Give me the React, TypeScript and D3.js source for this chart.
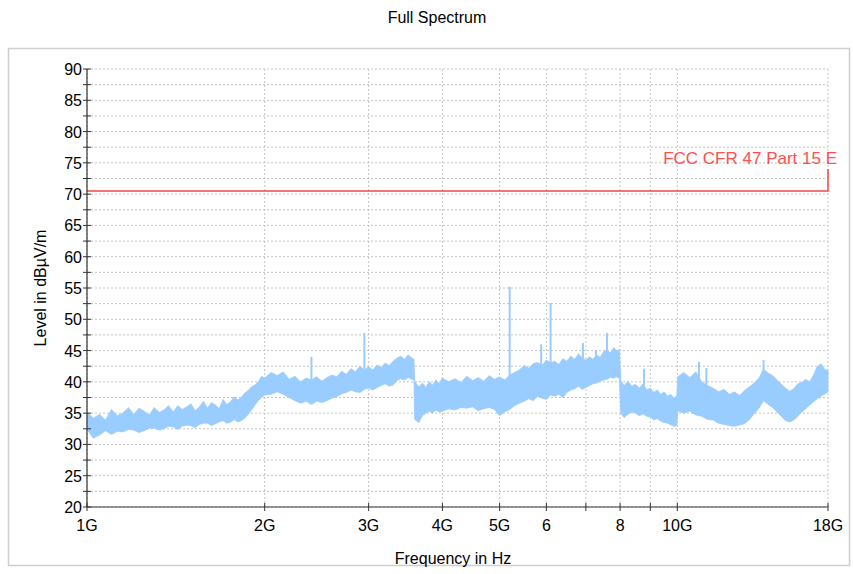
import React from 'react';
import * as d3 from 'd3';

// Measured envelope of the full spectrum sweep (GHz, dBµV/m)
const freqGHz = [
  1.0, 1.025, 1.05, 1.075, 1.1, 1.125, 1.15, 1.175, 1.2, 1.225, 1.25, 1.275, 1.3, 1.325, 1.35, 1.375, 1.4, 1.425,
  1.45, 1.475, 1.5, 1.525, 1.55, 1.575, 1.6, 1.625, 1.65, 1.675, 1.7, 1.725, 1.75, 1.775, 1.8, 1.825, 1.85, 1.875,
  1.9, 1.925, 1.95, 1.975, 2.0,
  2.05, 2.1, 2.15, 2.2, 2.25, 2.3, 2.35, 2.4, 2.45, 2.5, 2.55, 2.6, 2.65, 2.7, 2.75, 2.8, 2.85, 2.9, 2.95, 3.0,
  3.05, 3.1, 3.15, 3.2, 3.25, 3.3, 3.35, 3.4, 3.45, 3.5, 3.55, 3.58,
  3.59, 3.65, 3.7, 3.75, 3.8, 3.85, 3.9, 3.95, 4.0, 4.1, 4.2, 4.3, 4.4, 4.5, 4.6, 4.7, 4.8, 4.9, 5.0,
  5.1, 5.2, 5.3, 5.4, 5.5, 5.6, 5.7, 5.8, 5.9, 6.0, 6.1, 6.2, 6.3, 6.4, 6.5, 6.6, 6.7, 6.8, 6.9, 7.0,
  7.1, 7.2, 7.3, 7.4, 7.5, 7.6, 7.7, 7.8, 7.9, 7.98,
  8.02, 8.125, 8.25, 8.375, 8.5, 8.625, 8.75, 8.875, 9.0, 9.125, 9.25, 9.375, 9.5, 9.625, 9.75, 9.875, 9.98,
  10.02, 10.25, 10.5, 10.75, 11.0, 11.25, 11.5, 11.75, 12.0, 12.25, 12.5, 12.75, 13.0, 13.25, 13.5, 13.75,
  14.0, 14.25, 14.5, 14.75, 15.0, 15.25, 15.5, 15.75, 16.0, 16.25, 16.5, 16.75, 17.0, 17.25, 17.5, 17.75, 18.0,
];
const peakLevel = [
  35.2, 34.2, 34.8, 33.9, 35.6, 34.6, 35.0, 35.9, 34.8, 35.8, 35.3, 34.7, 35.9, 35.1, 35.5, 36.2, 35.2, 36.2,
  35.6, 36.0, 36.5, 35.4, 36.0, 36.9, 35.8, 36.7, 36.3, 35.7, 37.2, 36.4, 36.8, 37.6, 37.1, 37.5, 38.2, 38.6,
  39.2, 39.5, 40.0, 40.9, 40.6,
  41.5, 41.0, 41.6, 40.4, 40.9, 40.0, 40.6, 40.3, 40.8, 40.1, 40.7, 41.1, 40.8, 41.7, 41.2, 42.1, 41.6, 42.5, 41.9, 42.4,
  41.9, 42.7, 42.3, 43.0, 42.6, 43.3, 43.8, 44.1, 43.6, 44.3, 43.8, 43.6,
  40.0, 39.2, 39.8, 39.1, 40.0, 39.5, 40.3, 39.7, 40.6, 40.0, 40.5, 39.9, 40.9, 40.2, 40.7, 40.1, 41.0, 40.4, 40.8,
  40.3, 41.1, 41.5, 41.9, 42.6, 42.2, 42.9, 43.1, 42.6, 43.5, 43.0, 43.3, 42.8, 43.7, 43.3, 44.1, 43.6, 44.5, 43.8, 43.5,
  44.0, 43.6, 44.3, 43.9, 44.8, 45.1, 44.6, 45.5, 44.9, 45.2,
  40.2, 39.4, 40.1, 39.3, 39.6, 39.0, 39.7, 38.7, 39.0, 38.3, 38.7, 38.0, 38.4, 37.7, 38.0, 37.4, 37.8,
  40.8, 41.5, 40.7, 41.6, 40.0, 39.4, 39.0, 38.4, 38.8, 38.0, 38.4, 37.8, 38.6, 39.2, 39.8, 40.6,
  42.0, 41.4, 41.0, 40.3, 39.6, 39.0, 38.5, 38.9, 39.7, 39.9, 40.4, 40.0, 41.0, 42.4, 42.9, 42.0, 41.8,
];
const floorLevel = [
  32.4, 31.0, 31.5, 32.2, 31.6, 32.1, 32.0, 32.4, 32.3, 31.9, 32.2, 32.6, 32.6, 32.3, 32.5, 32.9, 32.8, 32.4,
  32.9, 33.1, 33.0, 32.7, 33.2, 33.4, 33.4, 33.0, 33.3, 33.6, 33.8, 33.4, 33.5, 34.0, 33.6, 33.8, 34.2, 34.8,
  35.5, 36.3, 37.0, 37.5, 37.9,
  38.0, 38.4, 38.0, 37.5, 37.0, 36.6, 36.9, 36.4, 36.9, 36.7, 37.0, 37.4, 37.6, 38.1, 38.3, 38.7, 38.4, 38.3, 38.8, 39.0,
  38.7, 39.1, 39.4, 39.7, 39.3, 39.5, 40.2, 40.5, 40.3, 40.7, 40.4, 40.3,
  34.0, 33.5, 34.6, 35.0, 35.3, 35.0, 35.5, 35.2, 35.3, 35.7, 35.5, 35.9, 35.8, 36.0, 35.4, 35.7, 35.9, 35.6, 34.6,
  35.2, 35.6, 36.2, 36.6, 36.9, 37.3, 37.0, 37.7, 37.4, 37.2, 37.9, 37.7, 38.0, 37.5, 38.3, 38.7, 38.9, 39.3, 38.8, 39.1,
  39.4, 39.7, 39.8, 40.1, 40.3, 40.4, 40.7, 40.6, 40.8, 40.5,
  35.0, 34.3, 34.8, 35.2, 35.0, 34.6, 34.9, 34.5, 34.4, 33.9, 34.1, 33.7, 33.5, 33.4, 33.1, 32.9, 33.0,
  35.4, 35.0, 35.3, 34.7, 34.5, 34.0, 33.9, 33.4, 33.2, 33.0, 32.9, 33.1, 33.3, 34.0, 34.9, 35.8,
  37.0, 36.4, 35.9, 35.2, 34.5, 33.8, 33.6, 33.9, 34.5, 35.2, 35.7, 36.3, 36.8, 37.3, 37.7, 38.0, 38.4,
];
// Narrow spurious emissions above the noise band
const spikeFreqGHz = [2.4, 2.95, 5.2, 5.88, 6.1, 6.92, 7.28, 7.6, 8.78, 10.88, 11.2, 14.0];
const spikeLevel = [44.0, 47.8, 55.2, 46.0, 52.6, 46.2, 45.1, 47.8, 42.1, 43.2, 42.2, 43.5];

// Limit line
const limitFreqGHz = [1, 18, 18];
const limitLevel = [70.5, 70.5, 74.0];
const limitName = 'FCC CFR 47 Part 15 E';

const yTicks = [20, 25, 30, 35, 40, 45, 50, 55, 60, 65, 70, 75, 80, 85, 90];
const yMinorTicks = [22.5, 27.5, 32.5, 37.5, 42.5, 47.5, 52.5, 57.5, 62.5, 67.5, 72.5, 77.5, 82.5, 87.5];
const xGridGHz = [1, 2, 3, 4, 5, 6, 7, 8, 9, 10, 18];
const xLabelGHz = [1, 2, 3, 4, 5, 6, 8, 10, 18];
const xLabelText = ['1G', '2G', '3G', '4G', '5G', '6', '8', '10G', '18G'];

const W = 853;
const H = 574;
const font = "'Liberation Sans', Arial, sans-serif";

export default function App() {
  const x = d3.scaleLog().domain([1, 18]).range([87, 828]);
  const y = d3.scaleLinear().domain([20, 90]).range([507, 69]);

  const idx = d3.range(freqGHz.length);
  const area = d3
    .area<number>()
    .x((i) => x(freqGHz[i]))
    .y0((i) => y(floorLevel[i]))
    .y1((i) => y(peakLevel[i]));

  const limitLine = d3
    .line<number>()
    .x((i) => x(limitFreqGHz[i]))
    .y((i) => y(limitLevel[i]));

  const bandMid = (f: number) => {
    let best = 0;
    let bd = Infinity;
    freqGHz.forEach((g, i) => {
      const d = Math.abs(Math.log(g) - Math.log(f));
      if (d < bd) {
        bd = d;
        best = i;
      }
    });
    return (peakLevel[best] + floorLevel[best]) / 2;
  };

  const grid = '#c4c4c4';
  const axis = '#333';

  return (
    <svg
      width={W}
      height={H}
      style={{ position: 'absolute', left: 0, top: 0, display: 'block', background: '#fff' }}
      fontFamily={font}
    >
      <rect x={8.5} y={48.5} width={841} height={517} fill="#fff" stroke="#cfcfcf" strokeWidth={1.5} />
      <text x={437} y={23} textAnchor="middle" fontSize={16} fill="#000">
        Full Spectrum
      </text>

      {[...yTicks, ...yMinorTicks].map((v) => (
        <line
          key={'hg' + v}
          x1={x(1)}
          x2={x(18)}
          y1={y(v)}
          y2={y(v)}
          stroke={grid}
          strokeWidth={1}
          strokeDasharray="2,2"
        />
      ))}
      {xGridGHz.map((f) => (
        <line
          key={'vg' + f}
          x1={x(f)}
          x2={x(f)}
          y1={y(90)}
          y2={y(20)}
          stroke={grid}
          strokeWidth={1}
          strokeDasharray="2,2"
        />
      ))}

      <path d={area(idx) || ''} fill="#99ccff" stroke="#99ccff" strokeWidth={0.8} strokeLinejoin="miter" />
      {spikeFreqGHz.map((f, i) => (
        <line
          key={'sp' + i}
          x1={x(f)}
          x2={x(f)}
          y1={y(spikeLevel[i])}
          y2={y(bandMid(f))}
          stroke="#99ccff"
          strokeWidth={2}
        />
      ))}

      <path d={limitLine(d3.range(limitFreqGHz.length)) || ''} fill="none" stroke="#f04848" strokeWidth={1.5} />
      <text x={837} y={164} textAnchor="end" fontSize={17} fill="#ff4f4f">
        {limitName}
      </text>

      <line x1={x(1)} x2={x(1)} y1={y(90)} y2={y(20)} stroke={axis} strokeWidth={1.2} />
      <line x1={x(1)} x2={x(18)} y1={y(20)} y2={y(20)} stroke={axis} strokeWidth={1.2} />
      {[...yTicks, ...yMinorTicks].map((v) => (
        <line key={'yt' + v} x1={83} x2={91} y1={y(v)} y2={y(v)} stroke={axis} strokeWidth={1} />
      ))}
      {yTicks.map((v) => (
        <text key={'yl' + v} x={82} y={y(v) + 6} textAnchor="end" fontSize={16} fill="#000">
          {v}
        </text>
      ))}
      {xGridGHz.map((f) => (
        <line key={'xt' + f} x1={x(f)} x2={x(f)} y1={503} y2={511} stroke={axis} strokeWidth={1} />
      ))}
      {xLabelGHz.map((f, i) => (
        <text key={'xl' + f} x={x(f)} y={531} textAnchor="middle" fontSize={16} fill="#000">
          {xLabelText[i]}
        </text>
      ))}
      <text x={453} y={564} textAnchor="middle" fontSize={16} fill="#000">
        Frequency in Hz
      </text>
      <text transform={`translate(46, 288) rotate(-90)`} textAnchor="middle" fontSize={16} fill="#000">
        Level in dBµV/m
      </text>
    </svg>
  );
}
